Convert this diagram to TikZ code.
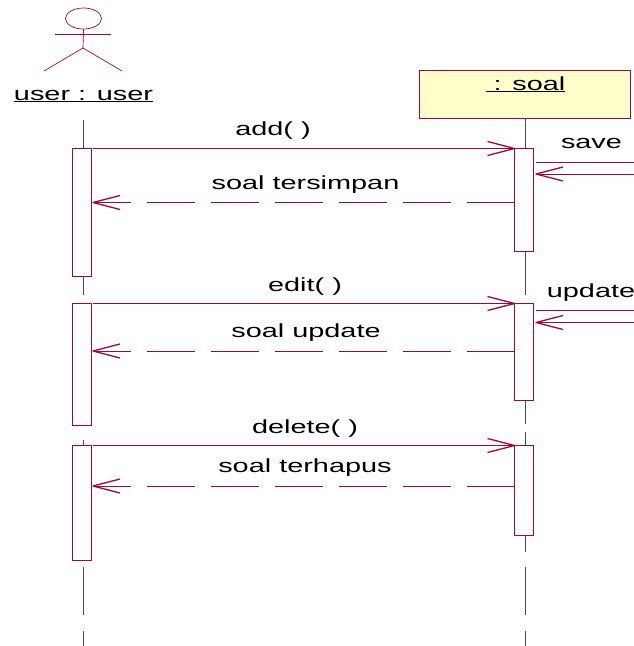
\documentclass[tikz,border=0pt]{standalone}
\usepackage{fontspec}
\setmainfont{Liberation Sans}
\usetikzlibrary{arrows.meta,shapes.geometric}
\definecolor{umlline}{HTML}{A0063F}
\definecolor{umlfill}{HTML}{FFFFCC}
\pgfdeclarearrow{
  name=UmlOpen,
  setup code={
    \pgfarrowssettipend{0pt}
    \pgfarrowssetlineend{-1pt}
    \pgfarrowssetbackend{-27pt}
    \pgfarrowssetvisualbackend{-1pt}
  },
  drawing code={
    \pgfsetlinewidth{1.3pt}
    \pgfsetdash{}{0pt}
    \pgfsetroundjoin
    \pgfpathmoveto{\pgfpoint{-27pt}{7pt}}
    \pgfpathlineto{\pgfpointorigin}
    \pgfpathlineto{\pgfpoint{-27pt}{-7pt}}
    \pgfusepathqstroke
  }
}
\tikzset{
  x=1pt,y=-1pt,
  lifeline/.style={draw=black!70,line width=0.7pt},
  actorline/.style={draw=umlline,line width=0.7pt},
  activation/.style={draw=umlline,line width=0.8pt,fill=white,inner sep=0pt,outer sep=0pt,minimum width=19pt,rectangle},
  objbox/.style={draw=umlline,line width=0.9pt,fill=umlfill,inner sep=0pt,rectangle,minimum width=211pt,minimum height=48pt},
  msg/.style={draw=umlline,line width=0.7pt,-UmlOpen},
  ret/.style={msg,dash pattern=on 48pt off 16pt},
  lbl/.style={anchor=base,inner sep=0pt,xscale=1.52,transform shape,font=\fontsize{19}{19}\selectfont,text=black},
}
\begin{document}
\begin{tikzpicture}
\useasboundingbox (0,0) rectangle (634,646);
\begin{scope}
\clip (0,0) rectangle (634,646);
% actor
\node[draw=umlline,line width=0.7pt,ellipse,minimum width=36pt,minimum height=21pt,inner sep=0pt] (head) at (83.5,18.5) {};
\coordinate (hip) at (83,48);
\coordinate (armL) at (55,34);
\coordinate (armR) at (111,34);
\coordinate (legL) at (44,71);
\coordinate (legR) at (122,71);
\draw[actorline] (head.south) -- (hip);
\draw[actorline] (armL) -- (armR);
\draw[actorline] (legL) -- (hip) -- (legR);
\node[lbl] (userlbl) at (83.5,100) {\underline{user : user}};
% object
\node[objbox] (obj) at (524.5,94) {};
\node[lbl] (objlbl) at (525.5,90) {\underline{\ : soal}};
% lifelines
\foreach \n/\x/\a/\b in {u1/83/120/148,u2/83/276/295,u3/83/440/445,u4/83/567/615,u5/83/631/646,
                         s1/525/118/148,s2/525/251/295,s3/525/400/424,s3b/525/432/445,s4/525/535/552,s5/525/567/615,s6/525/631/646}{
  \coordinate (\n a) at (\x,\a);
  \coordinate (\n b) at (\x,\b);
  \draw[lifeline] (\n a) -- (\n b);
}
% activations
\node[activation,minimum height=128pt] (ua) at (81.5,212.5) {};
\node[activation,minimum height=122pt] (ub) at (81.5,364.5) {};
\node[activation,minimum height=115pt] (uc) at (81.5,503) {};
\node[activation,minimum height=103pt] (sa) at (524,200) {};
\node[activation,minimum height=97pt] (sb) at (524,352) {};
\node[activation,minimum height=90pt] (sc) at (524,490.5) {};
% calls
\draw[msg] ([xshift=2pt]ua.north east) -- (sa.north west);
\draw[msg] ([xshift=2pt]ub.north east) -- (sb.north west);
\draw[msg] ([xshift=2pt]uc.north east) -- (sc.north west);
% returns
\coordinate (r1) at (93,202.5);
\coordinate (r2) at (93,351);
\coordinate (r3) at (93,486);
\draw[ret] (sa.west |- r1) -- (r1);
\draw[ret] (sb.west |- r2) -- (r2);
\draw[ret] (sc.west |- r3) -- (r3);
% self calls (cut by the picture's right edge)
\coordinate (e1) at (640,162);
\coordinate (e2) at (640,174);
\coordinate (e3) at (640,310);
\coordinate (e4) at (640,322.5);
\coordinate (t1) at (536,162);
\coordinate (t2) at (536,174);
\coordinate (t3) at (536,310);
\coordinate (t4) at (536,322.5);
\draw[actorline] (t1) -- (e1);
\draw[msg] (e2) -- (t2);
\draw[actorline] (t3) -- (e3);
\draw[msg] (e4) -- (t4);
\end{scope}
% labels
\node[lbl] (l1) at (273,135) {add( )};
\node[lbl] (l2) at (305.5,189) {soal tersimpan};
\node[lbl] (l3) at (305,291) {edit( )};
\node[lbl] (l4) at (306,337) {soal update};
\node[lbl] (l5) at (305,433) {delete( )};
\node[lbl] (l6) at (305,472) {soal terhapus};
\node[lbl] (l7) at (591.5,148) {save};
\node[lbl] (l8) at (591,297) {update};
\end{tikzpicture}
\end{document}
